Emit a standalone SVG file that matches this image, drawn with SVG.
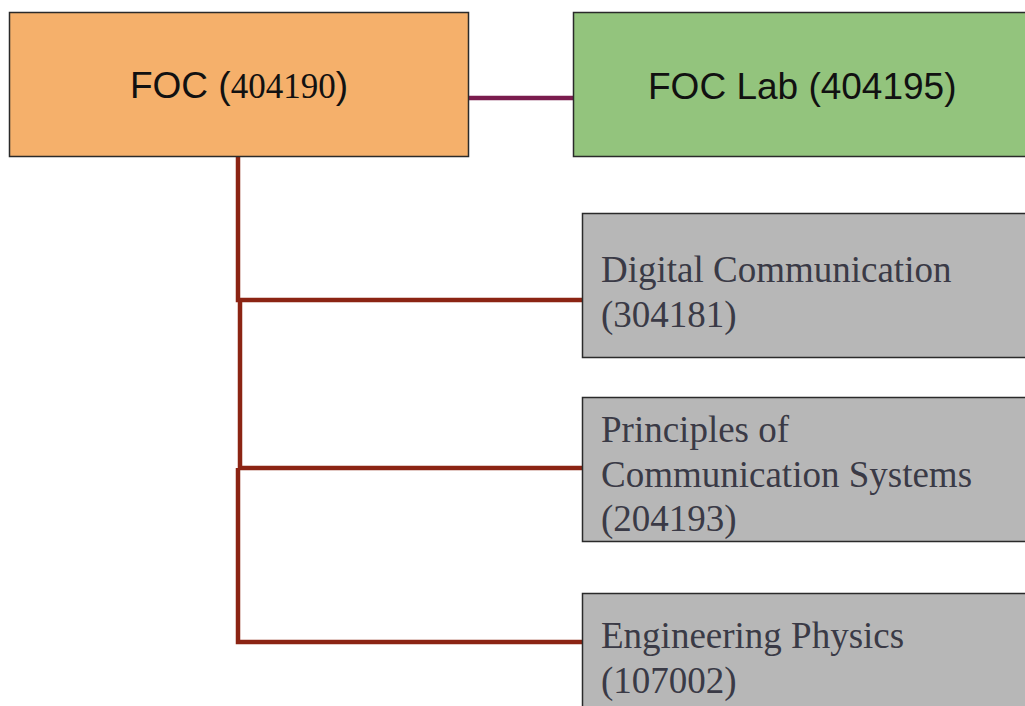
<svg xmlns="http://www.w3.org/2000/svg" width="1025" height="706" viewBox="0 0 1025 706">
<style>
.box{stroke:#2a2a2a;stroke-width:1.5}
.sans{font-family:"Liberation Sans",Arial,sans-serif;font-size:37px;fill:#111}
.serif{font-family:"Liberation Serif","Times New Roman",serif;font-size:37px;fill:#3a3a46}
.red{fill:none;stroke:#8b2413;stroke-width:4.5;stroke-linejoin:miter}
.purple{fill:none;stroke:#7a1c4e;stroke-width:4.5}
</style>
<rect width="1025" height="706" fill="#ffffff"/>
<g id="connectors">
<line class="purple" x1="469" y1="98" x2="574" y2="98"/>
<polyline class="red" points="238,157 238,300 582,300"/>
<polyline class="red" points="240,300 240,468 582,468"/>
<polyline class="red" points="238,468 238,642 586,642"/>
</g>
<g id="foc">
<rect class="box" x="9.5" y="12.5" width="459" height="144" fill="#f5b06b"/>
<text class="sans" x="239" y="98" text-anchor="middle">FOC (<tspan font-family="Liberation Serif, serif" font-size="35">404190</tspan>)</text>
</g>
<g id="foclab">
<rect class="box" x="573.5" y="12.5" width="460" height="144" fill="#93c47d"/>
<text class="sans" x="648" y="99">FOC Lab (404195)</text>
</g>
<g id="digital">
<rect class="box" x="582.5" y="213.5" width="450" height="144" fill="#b7b7b7"/>
<text class="serif" x="601" y="282">Digital Communication</text>
<text class="serif" x="601" y="327">(304181)</text>
</g>
<g id="principles">
<rect class="box" x="582.5" y="397.5" width="450" height="144" fill="#b7b7b7"/>
<text class="serif" x="601" y="442">Principles of</text>
<text class="serif" x="601" y="487">Communication Systems</text>
<text class="serif" x="601" y="531">(204193)</text>
</g>
<g id="physics">
<rect class="box" x="582.5" y="593.5" width="450" height="144" fill="#b7b7b7"/>
<text class="serif" x="601" y="648">Engineering Physics</text>
<text class="serif" x="601" y="693">(107002)</text>
</g>
</svg>
